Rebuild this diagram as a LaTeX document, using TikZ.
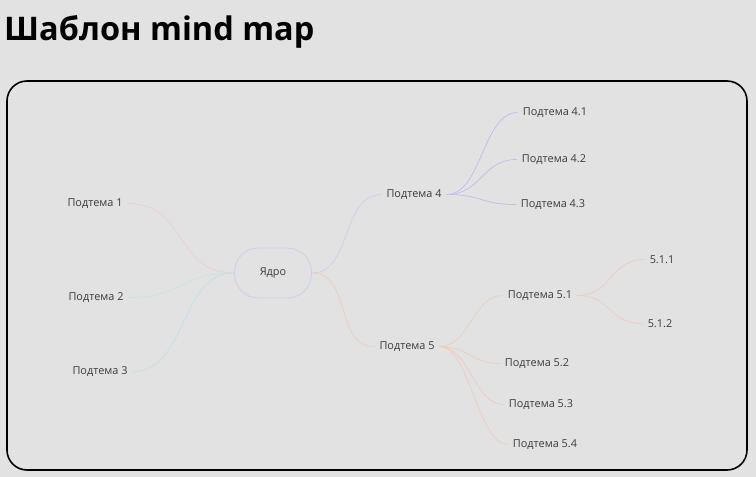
\documentclass[tikz,border=0pt]{standalone}
\usepackage{fontspec}
\setmainfont{Open Sans}
\newfontfamily\titlefont{Open Sans}
\definecolor{bg}{HTML}{E2E2E2}
\definecolor{txt}{HTML}{3C3C3C}
\definecolor{cpink}{HTML}{EECCDE}
\definecolor{ccyan}{HTML}{C4E6DE}
\definecolor{cblue}{HTML}{BEE0EA}
\definecolor{clav}{HTML}{D2CCF0}
\definecolor{cpurp}{HTML}{C6B8F4}
\definecolor{cpeach}{HTML}{F0CCBC}
\begin{document}
\begin{tikzpicture}[x=1pt,y=-1pt,
  topic/.style={font=\fontsize{10.9}{12}\selectfont, text=txt, inner xsep=5pt, inner ysep=2pt},
  core/.style={draw=clav, line width=0.8pt, rounded corners=24pt, minimum width=77pt, minimum height=50pt, font=\fontsize{10.9}{12}\selectfont, text=txt},
  link/.style={line width=0.7pt}]
\fill[bg] (0,0) rectangle (756,477);
\useasboundingbox (0,0) rectangle (756,477);
\node[anchor=base west, inner sep=0pt, font=\titlefont\bfseries\fontsize{32.5}{38}\selectfont, text=black] (title) at (4,40) {Шаблон mind map};
\draw[line width=1.6pt, rounded corners=20pt] (7,81) rectangle (747,470);

\node[core] (core) at (273,273) {Ядро};
\node[topic] (t1) at (95,203.5) {Подтема 1};
\node[topic] (t2) at (96,297.5) {Подтема 2};
\node[topic] (t3) at (100,371.5) {Подтема 3};
\node[topic] (t4) at (414,194.5) {Подтема 4};
\node[topic] (t41) at (555,112.5) {Подтема 4.1};
\node[topic] (t42) at (554,159.5) {Подтема 4.2};
\node[topic] (t43) at (553,204.5) {Подтема 4.3};
\node[topic] (t5) at (407,346.5) {Подтема 5};
\node[topic] (t51) at (540,295.5) {Подтема 5.1};
\node[topic] (t52) at (537,363.5) {Подтема 5.2};
\node[topic] (t53) at (541,404.5) {Подтема 5.3};
\node[topic] (t54) at (545,444.5) {Подтема 5.4};
\node[topic] (t511) at (662,259.5) {5.1.1};
\node[topic] (t512) at (660,323.5) {5.1.2};

\draw[link, cpink] (core.west) .. controls +(-60,0) and +(60,0) .. (t1.east);
\draw[link, ccyan] (core.west) .. controls +(-55,0) and +(55,0) .. (t2.east);
\draw[link, cblue] (core.west) .. controls +(-55,0) and +(55,0) .. (t3.east);
\draw[link, clav] (core.east) .. controls +(40,0) and +(-40,0) .. (t4.west);
\draw[link, cpeach] (core.east) .. controls +(40,0) and +(-40,0) .. (t5.west);
\draw[link, cpurp] (t4.east) .. controls +(35,0) and +(-35,0) .. (t41.west);
\draw[link, cpurp] (t4.east) .. controls +(35,0) and +(-35,0) .. (t42.west);
\draw[link, cpurp] (t4.east) .. controls +(35,0) and +(-35,0) .. (t43.west);
\draw[link, cpeach] (t5.east) .. controls +(30,0) and +(-30,0) .. (t51.west);
\draw[link, cpeach] (t5.east) .. controls +(30,0) and +(-30,0) .. (t52.west);
\draw[link, cpeach] (t5.east) .. controls +(30,0) and +(-30,0) .. (t53.west);
\draw[link, cpeach] (t5.east) .. controls +(30,0) and +(-30,0) .. (t54.west);
\draw[link, cpeach] (t51.east) .. controls +(35,0) and +(-35,0) .. (t511.west);
\draw[link, cpeach] (t51.east) .. controls +(35,0) and +(-35,0) .. (t512.west);
\end{tikzpicture}
\end{document}
